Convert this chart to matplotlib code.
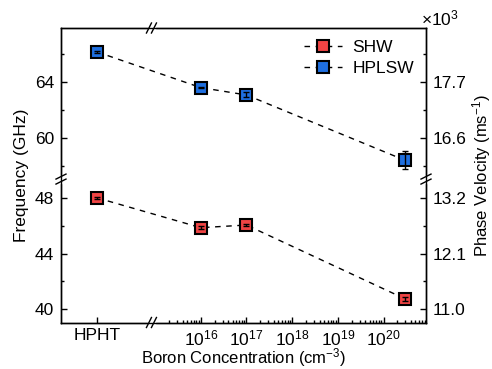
import numpy as np
import matplotlib
matplotlib.use("Agg")
import matplotlib.pyplot as plt

plt.rcParams['font.family'] = ['Liberation Sans', 'DejaVu Sans']
plt.rcParams['mathtext.default'] = 'regular'
plt.rcParams['font.size'] = 12.5

# -----------------------------
# data
# -----------------------------
samples = ["HPHT", "1e16", "1e17", "3e20"]
boron_conc = [1e16, 1e17, 3e20]          # doped samples (cm^-3)
hplsw_freq = [66.18, 63.62, 63.09, 58.39]  # GHz
hplsw_err = [0.05, 0.06, 0.18, 0.65]
shw_freq = [48.0, 45.86, 46.05, 40.74]
shw_err = [0.06, 0.10, 0.06, 0.12]

left_ticks = [40, 44, 48, 60, 64]
left_minor = [42, 46, 58, 62, 66]
right_labels = ["11.0", "12.1", "13.2", "16.6", "17.7"]
x_major = [16, 17, 18, 19, 20]

red = "#f04444"
blue = "#1f6fe0"

# broken y axis: remove the gap between the two frequency bands
gap_lo, gap_hi = 49.35, 57.05
gap = gap_hi - gap_lo


def fwd(y):
    y = np.asarray(y, dtype=float)
    return np.where(y >= gap_hi, y - gap, np.minimum(y, gap_lo))


def inv(t):
    t = np.asarray(t, dtype=float)
    return np.where(t > gap_lo, t + gap, t)


# broken x axis: HPHT sits left of the log10 concentration axis
hpht_pos = 13.73
xbreak = 14.92
xpos = [hpht_pos] + list(np.log10(boron_conc))

fig = plt.figure(figsize=(4.92, 3.69), dpi=100)
ax = fig.add_axes([61 / 492, 1 - 322.5 / 369, 365 / 492, 294.5 / 369])

ax.set_yscale('function', functions=(fwd, inv))
ax.set_ylim(39.05, 67.9)
ax.set_xlim(12.94, 20.93)

for freq, err, col, lab in [(shw_freq, shw_err, red, "SHW"),
                            (hplsw_freq, hplsw_err, blue, "HPLSW")]:
    ax.plot(xpos, freq, ls='--', dashes=(4, 4), color='k', lw=1,
            marker='s', ms=9, mfc=col, mec='k', mew=1.5, label=lab, zorder=3)
    ax.errorbar(xpos, freq, yerr=err, fmt='none', ecolor='k', elinewidth=1,
                capsize=2.5, capthick=1, zorder=4)

# x ticks
minor_x = [np.log10(k * 10.0 ** d) for d in range(15, 21) for k in range(2, 10)]
minor_x = [m for m in minor_x if xbreak + 0.2 < m < 20.93]
ax.set_xticks([hpht_pos] + x_major,
              labels=["HPHT"] + [f"$10^{{{d}}}$" for d in x_major])
ax.set_xticks(minor_x, minor=True)
ax.set_yticks(left_ticks)
ax.set_yticks(left_minor, minor=True)
ax.tick_params(direction='in', length=4.5, width=1, pad=5)
ax.tick_params(which='minor', direction='in', length=2.5, width=1)
ax.tick_params(axis='x', pad=4)

ax2 = ax.twinx()
ax2.set_yscale('function', functions=(fwd, inv))
ax2.set_ylim(ax.get_ylim())
ax2.set_yticks(left_ticks, labels=right_labels)
ax2.set_yticks(left_minor, minor=True)
ax2.tick_params(direction='in', length=4.5, width=1, pad=5)
ax2.tick_params(which='minor', direction='in', length=2.5, width=1)

for a in (ax, ax2):
    for s in a.spines.values():
        s.set_linewidth(1)

ax.set_xlabel("Boron Concentration (cm$^{-3}$)", labelpad=-1, fontsize=12)
ax.set_ylabel("Frequency (GHz)", labelpad=4)
ax2.set_ylabel("Phase Velocity (ms$^{-1}$)", labelpad=2, fontsize=12)
ax.text(0.985, 1.0, r"$\times10^3$", transform=ax.transAxes,
        ha='left', va='bottom', fontsize=12.5)

leg = ax.legend(loc='upper right', frameon=False, handlelength=2.2,
                handletextpad=0.6, labelspacing=0.3, borderaxespad=0.3)

# break marks on the spines
W, H = 365.0, 294.5
xb = (xbreak - 12.94) / (20.93 - 12.94)
yb = float((fwd(gap_lo) - 39.05) / (fwd(67.9) - 39.05))
dx, hx, hy = 2.5 / W, 2.5 / W, 5 / H
for y0 in (0, 1):
    ax.plot([xb - dx, xb + dx], [y0, y0], color='white', lw=2.5,
            transform=ax.transAxes, clip_on=False, zorder=5)
    for c in (xb - dx, xb + dx):
        ax.plot([c - hx, c + hx], [y0 - hy, y0 + hy], color='k', lw=1,
                transform=ax.transAxes, clip_on=False, zorder=6)
dy, wx, wy = 2.5 / H, 5 / W, 2.5 / H
for x0 in (0, 1):
    ax.plot([x0, x0], [yb - dy, yb + dy], color='white', lw=2.5,
            transform=ax.transAxes, clip_on=False, zorder=5)
    for c in (yb - dy, yb + dy):
        ax.plot([x0 - wx, x0 + wx], [c - wy, c + wy], color='k', lw=1,
                transform=ax.transAxes, clip_on=False, zorder=6)

fig.savefig("out.png", dpi=100)
